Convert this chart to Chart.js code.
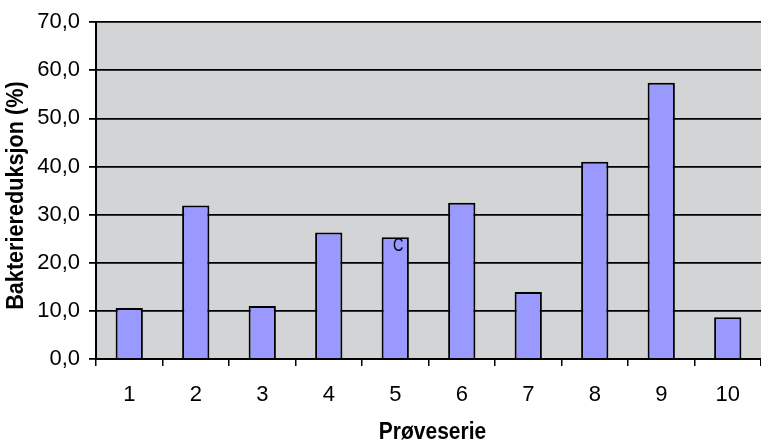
<!DOCTYPE html>
<html>
<head>
<meta charset="utf-8">
<script src="https://cdn.jsdelivr.net/npm/chart.js@4/dist/chart.umd.min.js"></script>
<style>
  html, body { margin: 0; padding: 0; background: #ffffff; }
  #wrap { width: 761px; height: 445px; }
</style>
</head>
<body>
<div id="wrap"><canvas id="chart" width="761" height="445"></canvas></div>
<script>
// Sample series and measured bacteria reduction (%)
const categories = ['1', '2', '3', '4', '5', '6', '7', '8', '9', '10'];
const reduction = [10.6, 31.9, 11.0, 26.3, 25.3, 32.5, 13.9, 41.0, 57.4, 8.7];
const yTicks = [0, 10, 20, 30, 40, 50, 60, 70];
// Note letter printed on one bar
const barNotes = { 4: 'C' };
const yTitle = 'Bakteriereduksjon (%)';
const xTitle = 'Prøveserie';

const FONT = "'Liberation Sans', Arial, sans-serif";

const plotBackground = {
  id: 'plotBackground',
  beforeDraw(chart) {
    const { ctx, chartArea: a } = chart;
    ctx.save();
    ctx.fillStyle = '#d3d4d6';
    ctx.fillRect(a.left, a.top, a.right - a.left, a.bottom - a.top);
    ctx.restore();
  }
};

const extras = {
  id: 'extras',
  afterDraw(chart) {
    const { ctx, chartArea: a } = chart;
    ctx.save();
    ctx.fillStyle = '#000';
    // bar notes
    const meta = chart.getDatasetMeta(0);
    ctx.textAlign = 'center';
    ctx.textBaseline = 'alphabetic';
    Object.keys(barNotes).forEach(i => {
      const el = meta.data[i];
      ctx.save();
      ctx.translate(el.x + 3, el.y + 14);
      ctx.scale(0.8, 1.0);
      ctx.font = '18px ' + FONT;
      ctx.fillText(barNotes[i], 0, 0);
      ctx.restore();
    });
    // axis titles (slightly tall bold lettering)
    ctx.font = 'bold 21px ' + FONT;
    ctx.save();
    ctx.translate((a.left + a.right) / 2 + 4, 439);
    ctx.scale(1, 1.1);
    ctx.fillText(xTitle, 0, 0);
    ctx.restore();
    ctx.save();
    ctx.translate(23, (a.top + a.bottom) / 2 + 5);
    ctx.rotate(-Math.PI / 2);
    ctx.scale(1.03, 1.12);
    ctx.fillText(yTitle, 0, 0);
    ctx.restore();
    ctx.restore();
  }
};

new Chart(document.getElementById('chart'), {
  type: 'bar',
  data: {
    labels: categories,
    datasets: [{
      data: reduction,
      backgroundColor: '#9999ff',
      borderColor: '#000000',
      borderWidth: 2,
      barPercentage: 0.41,
      categoryPercentage: 1.0
    }]
  },
  options: {
    responsive: false,
    animation: false,
    events: [],
    layout: { padding: { top: 21, right: 0, left: 0, bottom: 0 } },
    plugins: { legend: { display: false }, tooltip: { enabled: false } },
    scales: {
      x: {
        offset: true,
        grid: {
          offset: true,
          drawOnChartArea: false,
          drawTicks: true,
          tickLength: 7,
          color: '#000',
          lineWidth: 1.5
        },
        border: { display: true, color: '#000', width: 2 },
        ticks: {
          color: '#000',
          font: { family: FONT, size: 22 },
          padding: 16,
          maxRotation: 0
        },
        afterFit(scale) { scale.height = 86; }
      },
      y: {
        min: 0,
        max: 70,
        afterBuildTicks(scale) { scale.ticks = yTicks.map(v => ({ value: v })); },
        grid: {
          color: '#000',
          lineWidth: 1.8,
          drawTicks: true,
          tickLength: 7
        },
        border: { display: true, color: '#000', width: 2 },
        ticks: {
          color: '#000',
          font: { family: FONT, size: 22 },
          padding: 9,
          callback: v => v.toFixed(1).replace('.', ',')
        },
        afterFit(scale) { scale.width = 96; }
      }
    }
  },
  plugins: [plotBackground, extras]
});
</script>
</body>
</html>
